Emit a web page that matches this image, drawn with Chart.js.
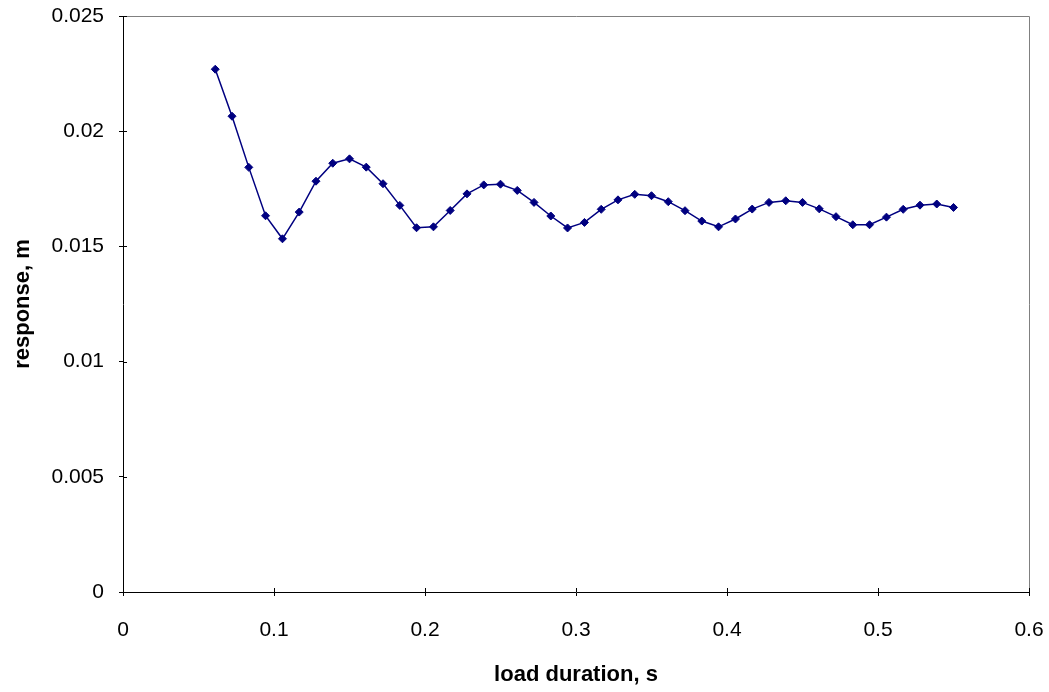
<!DOCTYPE html>
<html>
<head>
<meta charset="utf-8">
<title>response vs load duration</title>
<script src="https://cdn.jsdelivr.net/npm/chart.js@4.4.1/dist/chart.umd.min.js"></script>
<style>
  html, body { margin: 0; padding: 0; background: #fff; }
  #wrap { width: 1049px; height: 692px; }
</style>
</head>
<body>
<div id="wrap"><canvas id="chart" width="1049" height="692"></canvas></div>
<script>
// datos
const loadDuration = [0.0611, 0.0722, 0.0833, 0.0944, 0.1056, 0.1167, 0.1278, 0.1389, 0.1500,
  0.1611, 0.1722, 0.1833, 0.1944, 0.2056, 0.2167, 0.2278, 0.2389, 0.2500, 0.2611, 0.2722,
  0.2833, 0.2944, 0.3056, 0.3167, 0.3278, 0.3389, 0.3500, 0.3611, 0.3722, 0.3833, 0.3944,
  0.4056, 0.4167, 0.4278, 0.4389, 0.4500, 0.4611, 0.4722, 0.4833, 0.4944, 0.5056, 0.5167,
  0.5278, 0.5389, 0.5500];
const response = [0.02269, 0.02065, 0.01843, 0.01633, 0.01533, 0.01649, 0.01783, 0.01861,
  0.01880, 0.01844, 0.01772, 0.01678, 0.01581, 0.01585, 0.01656, 0.01728,
  0.01767, 0.01770, 0.01743, 0.01691, 0.01632, 0.01580, 0.01604, 0.01661, 0.01702,
  0.01726, 0.01720, 0.01694, 0.01655, 0.01610, 0.01585, 0.01619, 0.01662, 0.01691,
  0.01698, 0.01691, 0.01663, 0.01629, 0.01594, 0.01594, 0.01627, 0.01661, 0.01679,
  0.01684, 0.01669];
const xTicks = [0, 0.1, 0.2, 0.3, 0.4, 0.5, 0.6];
const yTicks = [0, 0.005, 0.01, 0.015, 0.02, 0.025];

const navy = '#000080';
const fontFamily = '"Liberation Sans", Arial, sans-serif';

// marcas de tick hacia dentro + borde gris arriba/derecha
const frame = {
  id: 'frame',
  afterDraw(chart) {
    const { ctx, chartArea: a, scales } = chart;
    ctx.save();
    ctx.strokeStyle = '#808080';
    ctx.lineWidth = 1;
    ctx.beginPath();
    ctx.moveTo(a.left, a.top + 0.5);
    ctx.lineTo(a.right + 0.5, a.top + 0.5);
    ctx.lineTo(a.right + 0.5, a.bottom);
    ctx.stroke();
    ctx.strokeStyle = '#000';
    ctx.beginPath();
    xTicks.forEach(v => {
      const px = Math.round(scales.x.getPixelForValue(v)) + 0.5;
      ctx.moveTo(px, a.bottom);
      ctx.lineTo(px, a.bottom - 4);
    });
    yTicks.forEach(v => {
      const py = Math.round(scales.y.getPixelForValue(v)) + 0.5;
      ctx.moveTo(a.left, py);
      ctx.lineTo(a.left + 4, py);
    });
    ctx.stroke();
    ctx.restore();
  }
};

const fmt = v => String(Number(v.toFixed(3)));

new Chart(document.getElementById('chart'), {
  type: 'scatter',
  data: {
    datasets: [{
      data: loadDuration.map((x, i) => ({ x: x, y: response[i] })),
      showLine: true,
      borderColor: navy,
      backgroundColor: navy,
      borderWidth: 1.5,
      pointStyle: 'rectRot',
      pointRadius: 4,
      pointHoverRadius: 4,
      pointBorderWidth: 1,
      tension: 0
    }]
  },
  options: {
    responsive: false,
    animation: false,
    devicePixelRatio: 1,
    layout: { padding: { top: 16, right: 20, left: 0, bottom: 0 } },
    plugins: { legend: { display: false }, tooltip: { enabled: false } },
    scales: {
      x: {
        type: 'linear',
        min: 0,
        max: 0.6,
        afterFit: s => { s.height = 100; s.paddingLeft = 0; s.paddingRight = 0; },
        afterBuildTicks: s => { s.ticks = xTicks.map(v => ({ value: v })); },
        grid: { drawOnChartArea: false, color: '#000', tickLength: 4, tickWidth: 1 },
        border: { color: '#000', width: 1 },
        ticks: {
          color: '#000',
          padding: 22,
          maxRotation: 0,
          font: { family: fontFamily, size: 21 },
          callback: fmt
        },
        title: {
          display: true,
          text: 'load duration, s',
          color: '#000',
          font: { family: fontFamily, size: 22, weight: 'bold' },
          padding: { top: 0, bottom: 4 }
        }
      },
      y: {
        type: 'linear',
        min: 0,
        max: 0.025,
        afterFit: s => { s.width = 123; s.paddingTop = 0; s.paddingBottom = 0; },
        afterBuildTicks: s => { s.ticks = yTicks.map(v => ({ value: v })); },
        grid: { drawOnChartArea: false, color: '#000', tickLength: 4, tickWidth: 1 },
        border: { color: '#000', width: 1 },
        ticks: {
          color: '#000',
          padding: 15,
          font: { family: fontFamily, size: 21 },
          callback: fmt
        },
        title: {
          display: true,
          text: 'response, m',
          color: '#000',
          font: { family: fontFamily, size: 22, weight: 'bold' },
          padding: { top: 10, bottom: 0 }
        }
      }
    }
  },
  plugins: [frame]
});
</script>
</body>
</html>
